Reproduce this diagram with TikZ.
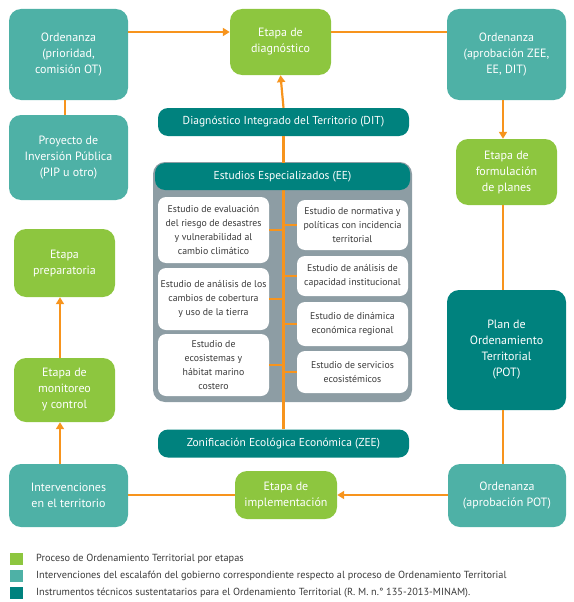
\documentclass[tikz,border=0pt]{standalone}
\usepackage{fontspec}
\setmainfont{PT Sans}
\usetikzlibrary{arrows.meta}
\definecolor{cgreen}{HTML}{8DC63F}
\definecolor{cteal}{HTML}{4EB1A6}
\definecolor{cdark}{HTML}{00827E}
\definecolor{cgray}{HTML}{8D9DA4}
\definecolor{corange}{HTML}{F7941D}
\definecolor{ctext}{HTML}{3A3A3A}
\tikzset{
  big/.style={rounded corners=12pt, text=white, align=center, inner sep=2pt,
    font=\fontsize{12}{16}\selectfont},
  stage/.style={big, fill=cgreen},
  gov/.style={big, fill=cteal},
  inst/.style={big, fill=cdark},
  bar/.style={fill=cdark, rounded corners=10pt, text=white, inner sep=0pt,
    font=\fontsize{11.5}{14}\selectfont},
  study/.style={fill=white, rounded corners=8pt, text=ctext, align=center, inner sep=1pt,
    font=\fontsize{9.8}{14}\selectfont},
  link/.style={draw=corange, line width=2.2pt},
  arr/.style={link, -{Triangle[length=7pt,width=8pt]}},
  legsq/.style={minimum width=13pt, minimum height=12pt, inner sep=0pt},
  legtxt/.style={anchor=west, text=ctext, inner sep=0pt, font=\fontsize{10.3}{12}\selectfont}
}
\begin{document}
\begin{tikzpicture}[x=1pt,y=-1pt]
\useasboundingbox (0,0) rectangle (573,602);
% guide coordinates
\coordinate (r1) at (0,32);
\coordinate (cL) at (60,0);
\coordinate (cP) at (65,0);
\coordinate (cR) at (503,0);
\coordinate (sp) at (283,0);
% outer nodes
\node[gov, minimum width=119pt, minimum height=91pt] (ord1) at (68.5,54.5) {Ordenanza\\(prioridad,\\comisión OT)};
\node[gov, minimum width=119pt, minimum height=85pt] (pip) at (68.5,157.5) {Proyecto de\\Inversión Pública\\(PIP u otro)};
\node[stage, minimum width=101pt, minimum height=66pt] (diag) at (280.5,42) {Etapa de\\diagnóstico};
\node[gov, minimum width=119pt, minimum height=91pt] (ord2) at (506.5,54.5) {Ordenanza\\(aprobación ZEE,\\EE, DIT)};
\node[stage, minimum width=101pt, minimum height=66pt] (form) at (506.5,172) {Etapa de\\formulación\\de planes};
\node[inst, minimum width=119pt, minimum height=120pt] (pot) at (506.5,350) {Plan de\\Ordenamiento\\Territorial\\(POT)};
\node[gov, minimum width=118pt, minimum height=63pt] (ord3) at (507,495.5) {Ordenanza\\(aprobación POT)};
\node[stage, minimum width=102pt, minimum height=48pt] (impl) at (286,495) {Etapa de\\implementación};
\node[gov, minimum width=119pt, minimum height=63pt] (interv) at (68.5,495.5) {Intervenciones\\en el territorio};
\node[stage, minimum width=101pt, minimum height=64pt] (moni) at (64.5,390) {Etapa de\\monitoreo\\y control};
\node[stage, minimum width=101pt, minimum height=68pt] (prep) at (64.5,263) {Etapa\\preparatoria};
% centre
\node[bar, minimum width=251pt, minimum height=28pt] (dit) at (283.5,122) {Diagnóstico Integrado del Territorio (DIT)};
\node[bar, minimum width=251pt, minimum height=28pt] (zee) at (283.5,443.5) {Zonificación Ecológica Económica (ZEE)};
\fill[cgray, rounded corners=12pt] (153,162) rectangle (412,402);
\draw[link] (zee.north) -- (dit.south);
\node[bar, minimum width=255pt, minimum height=27pt] (ee) at (282.5,176.5) {Estudios Especializados (EE)};
\node[study, minimum width=111pt, minimum height=66pt] (l1) at (213.5,230) {Estudio de evaluación\\del riesgo de desastres\\y vulnerabilidad al\\cambio climático};
\node[study, minimum width=111pt, minimum height=62pt] (l2) at (213.5,299) {Estudio de análisis de los\\cambios de cobertura\\y uso de la tierra};
\node[study, minimum width=111pt, minimum height=62pt] (l3) at (213.5,365) {Estudio de\\ecosistemas y\\hábitat marino\\costero};
\node[study, minimum width=111pt, minimum height=50pt] (r1b) at (352.5,225) {Estudio de normativa y\\políticas con incidencia\\territorial};
\node[study, minimum width=111pt, minimum height=40pt] (r2b) at (352.5,276) {Estudio de análisis de\\capacidad institucional};
\node[study, minimum width=111pt, minimum height=44pt] (r3b) at (352.5,324) {Estudio de dinámica\\económica regional};
\node[study, minimum width=111pt, minimum height=42pt] (r4b) at (352.5,372) {Estudio de servicios\\ecosistémicos};
\foreach \b in {l1,l2,l3} \draw[link] (\b.east) -- (\b.east -| sp);
\foreach \b in {r1b,r2b,r3b,r4b} \draw[link] (\b.west) -- (\b.west -| sp);
% connectors
\draw[arr] (dit.north) -- (diag.south);
\draw[arr] (ord1.east |- r1) -- (diag.west |- r1);
\draw[link] (diag.east |- r1) -- (ord2.west |- r1);
\draw[link] (cP |- ord1.south) -- (cP |- pip.north);
\draw[arr] (cR |- ord2.south) -- (cR |- form.north);
\draw[link] (cR |- form.south) -- (cR |- pot.north);
\draw[link] (cR |- pot.south) -- (cR |- ord3.north);
\draw[arr] (ord3.west |- impl.east) -- (impl.east);
\draw[link] (impl.west) -- (interv.east |- impl.west);
\draw[arr] (cL |- interv.north) -- (cL |- moni.south);
\draw[arr] (cL |- moni.north) -- (cL |- prep.south);
% legend
\node[legsq, fill=cgreen] (k1) at (16,559) {};
\node[legsq, fill=cteal] (k2) at (16,576) {};
\node[legsq, fill=cdark] (k3) at (16,593) {};
\node[legtxt] (t1) at (36,559) {Proceso de Ordenamiento Territorial por etapas};
\node[legtxt] (t2) at (36,576) {Intervenciones del escalafón del gobierno correspondiente respecto al proceso de Ordenamiento Territorial};
\node[legtxt] (t3) at (36,593) {Instrumentos técnicos sustentatarios para el Ordenamiento Territorial (R. M. n.° 135-2013-MINAM).};
\end{tikzpicture}
\end{document}
